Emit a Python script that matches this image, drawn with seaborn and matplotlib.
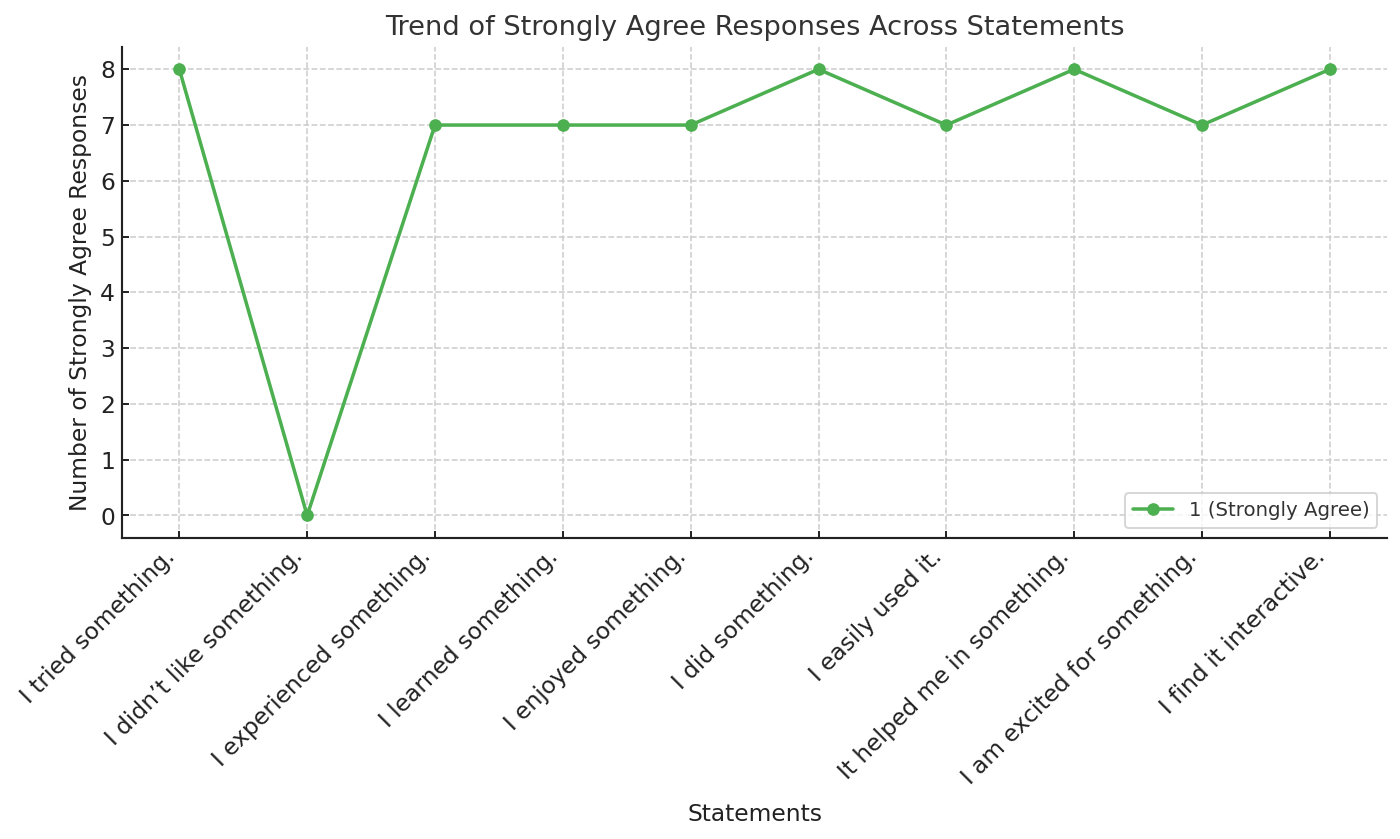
import matplotlib
matplotlib.use("Agg")
import matplotlib.pyplot as plt
import seaborn as sns
import pandas as pd

statements = [
    "I tried something.",
    "I didn\u2019t like something.",
    "I experienced something.",
    "I learned something.",
    "I enjoyed something.",
    "I did something.",
    "I easily used it.",
    "It helped me in something.",
    "I am excited for something.",
    "I find it interactive.",
]
strongly_agree = [8, 0, 7, 7, 7, 8, 7, 8, 7, 8]
series_label = "1 (Strongly Agree)"

sns.set_style("ticks")
plt.rcParams['font.family'] = ['DejaVu Sans']

df = pd.DataFrame({"pos": range(len(statements)), "value": strongly_agree})

fig, ax = plt.subplots(figsize=(10, 5.993), dpi=140)
sns.lineplot(data=df, x="pos", y="value", marker="o", color="#4CAF50",
             linewidth=1.8, markersize=6.5, markeredgewidth=0,
             label=series_label, ax=ax)

ax.set_xticks(range(len(statements)))
ax.set_xticklabels(statements, rotation=45, ha="right", fontsize=12, color="#222222")
ax.tick_params(axis="y", labelsize=12, labelcolor="#222222")
ax.tick_params(axis="both", direction="in", length=3.5, width=1, color="#222222")
ax.set_title("Trend of Strongly Agree Responses Across Statements", fontsize=14, color="#333333")
ax.set_xlabel("Statements", fontsize=12, color="#222222", labelpad=7.5)
ax.set_ylabel("Number of Strongly Agree Responses", fontsize=12, color="#222222")
ax.grid(True, linestyle="--", color="#cccccc", linewidth=0.8)
ax.set_axisbelow(True)
for s in ["top", "right"]:
    ax.spines[s].set_visible(False)
for s in ["left", "bottom"]:
    ax.spines[s].set_color("#222222")
    ax.spines[s].set_linewidth(1.1)
leg = ax.legend(loc="lower right", fontsize=10.2, handlelength=2.0)
for t in leg.get_texts():
    t.set_color("#333333")

fig.subplots_adjust(left=0.087, right=0.991, top=0.944, bottom=0.359)
fig.savefig("out.png", dpi=140)
